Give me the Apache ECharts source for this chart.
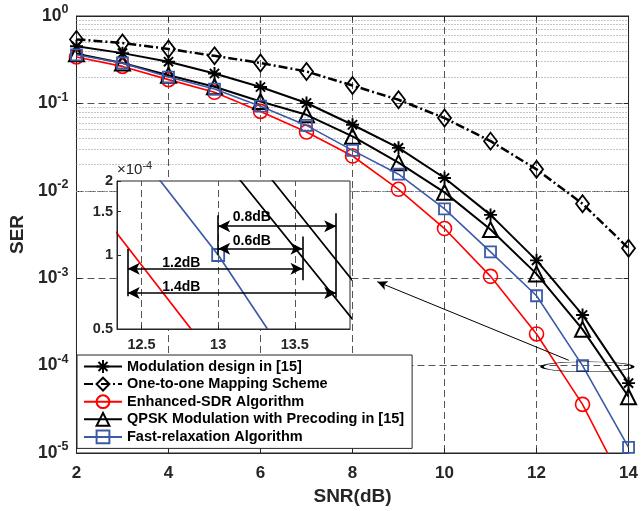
<!DOCTYPE html>
<html><head><meta charset="utf-8">
<script src="https://cdn.jsdelivr.net/npm/echarts@6/dist/echarts.min.js"></script>
<style>html,body{margin:0;padding:0;background:#fff}#c{width:641px;height:511px}</style>
</head><body><div id="c"></div>
<script>
// ---------------- data ----------------
const snr = [2, 3, 4, 5, 6, 7, 8, 9, 10, 11, 12, 13, 14];
const modulationDesign = [0.45, 0.376, 0.30, 0.22, 0.154, 0.101, 0.057, 0.031, 0.014, 0.0053, 0.0016, 0.00038, 6.3e-5];
const oneToOneMapping = [0.54, 0.49, 0.42, 0.35, 0.29, 0.232, 0.16, 0.11, 0.068, 0.037, 0.0176, 0.0071, 0.0022];
const enhancedSDR = [0.34, 0.265, 0.187, 0.134, 0.081, 0.047, 0.025, 0.0104, 0.0037, 0.00105, 0.00023, 3.6e-5, 3.4e-6];
const qpskPrecoding = [0.37, 0.29, 0.21, 0.155, 0.105, 0.074, 0.042, 0.021, 0.0096, 0.0036, 0.00112, 0.00026, 4.4e-5];
const fastRelaxation = [0.36, 0.29, 0.20, 0.146, 0.093, 0.056, 0.029, 0.0155, 0.0062, 0.0020, 0.00063, 0.0001, 1.16e-5];
const seriesNames = ['Modulation design in [15]', 'One-to-one Mapping Scheme', 'Enhanced-SDR Algorithm',
  'QPSK Modulation with Precoding in [15]', 'Fast-relaxation Algorithm'];
const xTicks = [2, 4, 6, 8, 10, 12, 14];
const minorMantissas = [2, 3, 4, 5, 6, 7, 8, 9];
const decades = [-5, -4, -3, -2, -1];
// inset (zoom) axes
const insetXTicks = [12.5, 13, 13.5];
const insetYTicks = [0.5e-4, 1e-4, 1.5e-4, 2e-4];
// inset annotations (data coordinates of the inset)
const gapLabels = ['0.8dB', '0.6dB', '1.2dB', '1.4dB'];
const gapArrows = [[13, 13.77, 1.31e-4], [13, 13.55, 1.06e-4], [12.41, 13.55, 0.88e-4], [12.41, 13.77, 0.70e-4]];
const gapLabelAt = [[13.22, 1.42e-4], [13.22, 1.135e-4], [12.76, 0.925e-4], [12.76, 0.743e-4]];
const refLines = [[13, 1.45e-4, 1e-4], [13.77, 1.48e-4, 0.67e-4], [13.55, 1.19e-4, 0.79e-4], [12.41, 1.06e-4, 0.68e-4]];
// main plot annotation: ellipse around (13,1e-4) and arrow to inset
const ellipseAt = [13.105, 0.97e-4];
const pointerFrom = [12.70, 1.15e-4];
const pointerTo = [8.54, 9.1e-4];

// ---------------- chart ----------------
const F = 'Arial, "Liberation Sans", sans-serif';
const C = '#262626';
const BLUE = '#3b5aa8';
const RED = '#ff0000';
const NONE = 'rgba(0,0,0,0)';
const asterisk = 'path://M8.5 0L11.5 0L11.5 20L8.5 20Z M0 8.5L20 8.5L20 11.5L0 11.5Z M3.99 1.87L18.13 16.01L16.01 18.13L1.87 3.99Z M18.13 3.99L3.99 18.13L1.87 16.01L16.01 1.87Z';
const ellipse = 'path://M0 50A50 50 0 1 1 100 50A50 50 0 1 1 0 50Z';
const DASH = { type: [7, 4], color: '#555', width: 1 };

const zip = arr => snr.map((x, i) => [x, arr[i]]);
const styles = [
  { data: modulationDesign, symbol: asterisk, symbolSize: 13, lc: '#000', lw: 2, lt: 'solid', item: { color: '#000' } },
  { data: oneToOneMapping, symbol: 'diamond', symbolSize: [13, 17], lc: '#000', lw: 2.5, lt: [9, 3, 2, 3], item: { color: NONE, borderColor: '#000', borderWidth: 1.8 } },
  { data: enhancedSDR, symbol: 'circle', symbolSize: 14, lc: RED, lw: 1.6, lt: 'solid', item: { color: NONE, borderColor: RED, borderWidth: 1.6 } },
  { data: qpskPrecoding, symbol: 'triangle', symbolSize: 15, lc: '#000', lw: 2, lt: 'solid', item: { color: NONE, borderColor: '#000', borderWidth: 2 } },
  { data: fastRelaxation, symbol: 'rect', symbolSize: 11, lc: BLUE, lw: 1.6, lt: 'solid', item: { color: NONE, borderColor: BLUE, borderWidth: 1.8 } }
];

const series = [];
// minor grid (dotted) on main grid
const minorVals = [];
decades.forEach(e => minorMantissas.forEach(m => minorVals.push(m * Math.pow(10, e))));
series.push({
  type: 'line', name: '_minor', data: [], xAxisIndex: 0, yAxisIndex: 0, z: 1, silent: true,
  markLine: { silent: true, z: 1, symbol: 'none', animation: false, label: { show: false },
    lineStyle: { type: [1, 2], color: '#8c8c8c', width: 1 },
    data: minorVals.map(v => ({ yAxis: v })) }
});
styles.forEach((s, i) => {
  series.push({
    type: 'line', name: seriesNames[i], data: zip(s.data), xAxisIndex: 0, yAxisIndex: 0, z: 3 + i,
    symbol: s.symbol, symbolSize: s.symbolSize, showSymbol: true,
    lineStyle: { color: s.lc, width: s.lw, type: s.lt }, itemStyle: s.item,
    emphasis: { disabled: true }
  });
});
series.push({
  type: 'line', name: '_annot', data: [], xAxisIndex: 0, yAxisIndex: 0, z: 9, silent: true,
  markLine: { silent: true, z: 9, animation: false, label: { show: false },
    lineStyle: { type: 'solid', color: '#000', width: 1 },
    data: [[{ coord: pointerFrom, symbol: 'none' }, { coord: pointerTo, symbol: 'arrow', symbolSize: [7, 10] }]] },
  markPoint: { silent: true, z: 9, animation: false, symbol: ellipse, symbolSize: [91, 10],
    itemStyle: { color: NONE, borderColor: '#000', borderWidth: 1.2 }, label: { show: false },
    data: [{ coord: ellipseAt }] }
});
// inset grid lines (dashed)
series.push({
  type: 'line', name: '_insetGrid', data: [], xAxisIndex: 2, yAxisIndex: 2, z: 11, silent: true,
  markLine: { silent: true, z: 11, symbol: 'none', animation: false, label: { show: false },
    lineStyle: DASH,
    data: insetXTicks.map(v => ({ xAxis: v })).concat(insetYTicks.map(v => ({ yAxis: v }))) }
});
// inset series
styles.forEach((s, i) => {
  series.push({
    type: 'line', name: '_inset' + i, data: zip(s.data), xAxisIndex: 2, yAxisIndex: 2, z: 12,
    symbol: i === 4 ? 'rect' : 'none', symbolSize: 12, showSymbol: i === 4,
    lineStyle: { color: s.lc, width: 1.7, type: 'solid' }, itemStyle: s.item, emphasis: { disabled: true }
  });
});
const insetMarks = [];
refLines.forEach(r => insetMarks.push([{ coord: [r[0], r[1]], symbol: 'none' }, { coord: [r[0], r[2]], symbol: 'none' }]));
gapArrows.forEach(a => insetMarks.push([{ coord: [a[0], a[2]], symbol: 'arrow' }, { coord: [a[1], a[2]], symbol: 'arrow' }]));
series.push({
  type: 'line', name: '_insetAnnot', data: [], xAxisIndex: 2, yAxisIndex: 2, z: 14, silent: true,
  markLine: { silent: true, z: 14, animation: false, label: { show: false }, symbolSize: [9, 12],
    lineStyle: { type: 'solid', color: '#000', width: 1.6 }, data: insetMarks },
  markPoint: { silent: true, z: 14, animation: false, symbol: 'circle', symbolSize: 0,
    label: { show: true, position: 'inside', formatter: '{b}', fontFamily: F, fontSize: 14, fontWeight: 'bold', color: '#000' },
    data: gapLabels.map((t, i) => ({ name: t, coord: gapLabelAt[i] })) }
});

const supLabel = v => '{b|10}{s|' + Math.round(Math.log10(v)) + '}';
const option = {
  animation: false,
  backgroundColor: '#fff',
  textStyle: { fontFamily: F },
  grid: [
    { left: 76, top: 16, width: 554, height: 439, show: true, borderColor: C, borderWidth: 1, backgroundColor: NONE, z: 0 },
    { left: 117, top: 181, width: 233, height: 148, show: true, borderColor: C, borderWidth: 1, backgroundColor: '#fff', z: 10 }
  ],
  xAxis: [
    { type: 'value', gridIndex: 0, min: 2, max: 14, interval: 2, position: 'bottom',
      name: 'SNR(dB)', nameLocation: 'middle', nameGap: 34,
      nameTextStyle: { fontFamily: F, fontSize: 19, fontWeight: 'bold', color: C },
      axisLine: { show: true, lineStyle: { color: C, width: 1 } },
      axisTick: { show: true, inside: true, length: 5, lineStyle: { color: C } },
      axisLabel: { margin: 12, fontFamily: F, fontSize: 17, fontWeight: 'bold', color: C },
      splitLine: { show: true, lineStyle: DASH } },
    { type: 'value', gridIndex: 0, min: 2, max: 14, interval: 2, position: 'top',
      axisLine: { show: true, lineStyle: { color: C } }, axisLabel: { show: false },
      axisTick: { show: true, inside: true, length: 5, lineStyle: { color: C } }, splitLine: { show: false } },
    { type: 'value', gridIndex: 1, min: 12.34, max: 13.86, z: 13,
      axisLine: { show: true, lineStyle: { color: C } },
      axisTick: { show: true, inside: true, length: 4, customValues: insetXTicks, lineStyle: { color: C } },
      axisLabel: { show: true, customValues: insetXTicks, margin: 8, fontFamily: F, fontSize: 14.5, fontWeight: 'bold', color: C },
      splitLine: { show: false } }
  ],
  yAxis: [
    { type: 'log', logBase: 10, gridIndex: 0, min: 1e-5, max: 1, splitNumber: 5, position: 'left',
      name: 'SER', nameLocation: 'middle', nameGap: 42, nameRotate: 90,
      nameTextStyle: { fontFamily: F, fontSize: 19, fontWeight: 'bold', color: C },
      axisLine: { show: true, lineStyle: { color: C } },
      axisTick: { show: true, inside: true, length: 5, lineStyle: { color: C } },
      axisLabel: { margin: 8, formatter: supLabel, color: C,
        rich: { b: { fontFamily: F, fontSize: 17.5, fontWeight: 'bold', color: C },
                s: { fontFamily: F, fontSize: 12.5, fontWeight: 'bold', color: C, padding: [0, 0, 12, 0] } } },
      splitLine: { show: true, lineStyle: DASH } },
    { type: 'log', logBase: 10, gridIndex: 0, min: 1e-5, max: 1, splitNumber: 5, position: 'right',
      axisLine: { show: true, lineStyle: { color: C } }, axisLabel: { show: false },
      axisTick: { show: true, inside: true, length: 5, lineStyle: { color: C } }, splitLine: { show: false } },
    { type: 'log', logBase: 10, gridIndex: 1, min: 0.5e-4, max: 2e-4, z: 13,
      name: '{a|\u00d710}{s|-4}', nameLocation: 'end', nameGap: 1,
      nameTextStyle: { align: 'left', verticalAlign: 'bottom',
        rich: { a: { fontFamily: F, fontSize: 15, color: C }, s: { fontFamily: F, fontSize: 11, color: C, padding: [0, 0, 9, 0] } } },
      axisLine: { show: true, lineStyle: { color: C } },
      axisTick: { show: true, inside: true, length: 4, customValues: insetYTicks, lineStyle: { color: C } },
      axisLabel: { show: true, customValues: insetYTicks, margin: 4, fontFamily: F, fontSize: 14.5, fontWeight: 'bold', color: C,
        formatter: v => String(Math.round(v * 1e5) / 10) },
      splitLine: { show: false } }
  ],
  legend: {
    data: seriesNames, orient: 'vertical', left: 77, top: 355,
    itemWidth: 38, itemHeight: 16, itemGap: 2.6, padding: [4, 8, 4, 6],
    backgroundColor: '#fff', borderColor: C, borderWidth: 1, z: 20,
    textStyle: { fontFamily: F, fontSize: 14.5, fontWeight: 'bold', color: '#000' }
  },
  series: series
};
const chart = echarts.init(document.getElementById('c'), null, { renderer: 'canvas' });
chart.setOption(option);
</script>
</body></html>
